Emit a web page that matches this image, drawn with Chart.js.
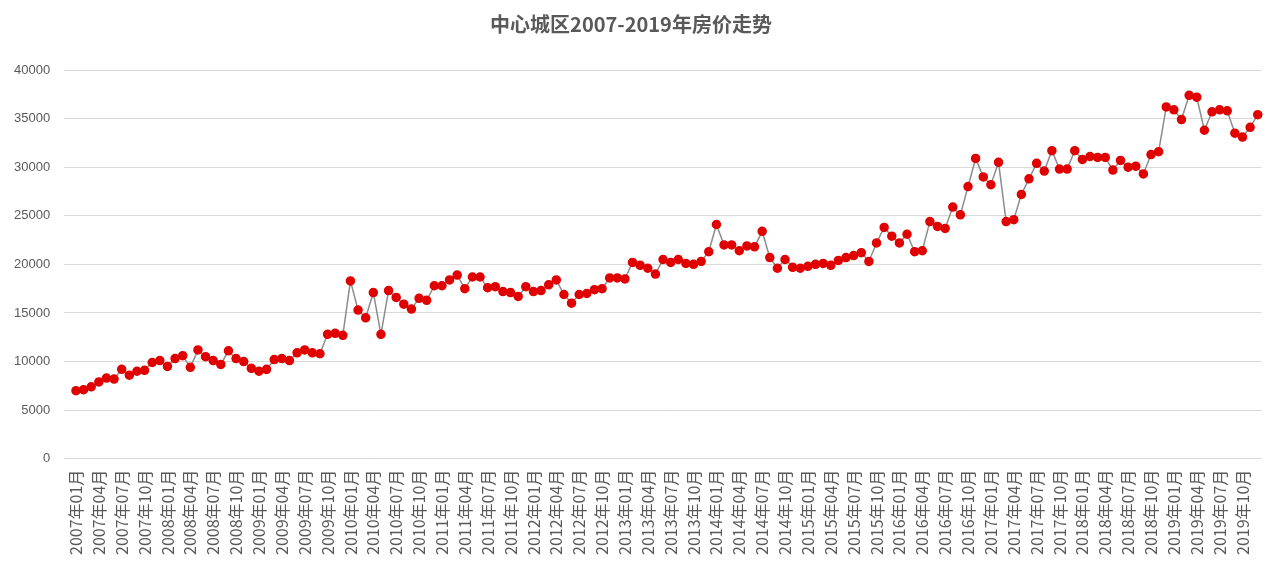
<!DOCTYPE html>
<html><head><meta charset="utf-8">
<script src="https://cdn.jsdelivr.net/npm/chart.js@4"></script>
<style>html,body{margin:0;background:#fff}#w{width:1280px;height:564px}</style>
</head><body><div id="w"><canvas id="c"></canvas></div>
<script>
const years=[2007,2008,2009,2010,2011,2012,2013,2014,2015,2016,2017,2018,2019];
const months=["01","02","03","04","05","06","07","08","09","10","11","12"];
const categories=[];years.forEach(y=>months.forEach(m=>categories.push(y+"年"+m+"月")));
const v2007=[7000,7100,7400,7900,8300,8200,9200,8600,9000,9100,9900,10100];
const v2008=[9500,10300,10600,9400,11200,10500,10100,9700,11100,10300,10000,9300];
const v2009=[9000,9200,10200,10300,10100,10900,11200,10900,10800,12800,12900,12700];
const v2010=[18300,15300,14500,17100,12800,17300,16600,15900,15400,16500,16300,17800];
const v2011=[17800,18400,18900,17500,18700,18700,17600,17700,17200,17100,16700,17700];
const v2012=[17200,17300,17900,18400,16900,16000,16900,17000,17400,17500,18600,18600];
const v2013=[18500,20200,19900,19600,19000,20500,20200,20500,20100,20000,20300,21300];
const v2014=[24100,22000,22000,21400,21900,21800,23400,20700,19600,20500,19700,19600];
const v2015=[19800,20000,20100,19900,20400,20700,20900,21200,20300,22200,23800,22900];
const v2016=[22200,23100,21300,21400,24400,23900,23700,25900,25100,28000,30900,29000];
const v2017=[28200,30500,24400,24600,27200,28800,30400,29600,31700,29800,29800,31700];
const v2018=[30800,31100,31000,31000,29700,30700,30000,30100,29300,31300,31600,36200];
const v2019=[35900,34900,37400,37200,33800,35700,35900,35800,33500,33100,34100,35400];
const prices=[].concat(v2007,v2008,v2009,v2010,v2011,v2012,v2013,v2014,v2015,v2016,v2017,v2018,v2019);
new Chart(document.getElementById('c'),{type:'line',
data:{labels:categories,datasets:[{data:prices,borderColor:'#8c8c8c',borderWidth:1.5,pointBackgroundColor:'#e00000',pointBorderColor:'#e00000',pointRadius:4,tension:0}]},
options:{responsive:true,maintainAspectRatio:false,animation:false,
layout:{padding:{left:0,right:18,top:8,bottom:6}},
plugins:{legend:{display:false},tooltip:{enabled:false},
title:{display:true,text:'中心城区2007-2019年房价走势',color:'#595959',font:{family:'Noto Sans CJK SC',size:20,weight:'bold'},padding:{top:4,bottom:34}}},
scales:{x:{offset:true,grid:{display:false},border:{color:'#d9d9d9'},
ticks:{autoSkip:false,maxRotation:90,minRotation:90,color:'#595959',font:{family:'Noto Sans CJK SC',size:16},
callback:function(v,i){return i%3===0?categories[i]:'';}}},
y:{min:0,max:40000,ticks:{stepSize:5000,color:'#595959',font:{size:13},padding:14,callback:v=>String(v)},grid:{color:'#d9d9d9'},border:{display:false}}}}});
</script></body></html>
